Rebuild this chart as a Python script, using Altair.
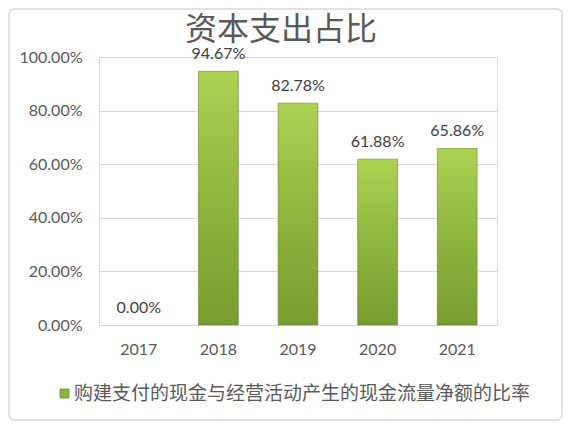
import altair as alt
import pandas as pd

# --- data ---
years = ['2017', '2018', '2019', '2020', '2021']
ratios = [0.0, 0.9467, 0.8278, 0.6188, 0.6586]
series_name = '购建支付的现金与经营活动产生的现金流量净额的比率'
chart_title = '资本支出占比'
y_ticks = [0, 0.2, 0.4, 0.6, 0.8, 1.0]

df = pd.DataFrame({'year': years, 'ratio': ratios, 'series': series_name})

GREY = '#595959'
NUM_FONT = 'Lato'
CJK_FONT = 'Noto Sans CJK SC'

bar_fill = alt.Gradient(
    gradient='linear',
    stops=[
        alt.GradientStop(color='#acd253', offset=0),
        alt.GradientStop(color='#96be42', offset=0.35),
        alt.GradientStop(color='#779c2f', offset=1),
    ],
    x1=0, x2=0, y1=0, y2=1,
)

x_enc = alt.X('year:N', title=None, sort=years,
              scale=alt.Scale(paddingInner=0.5, paddingOuter=0.25),
              axis=alt.Axis(labelAngle=0, ticks=False, domainColor='#d9d9d9',
                            labelFont=NUM_FONT, labelFontSize=16, labelColor=GREY,
                            labelPadding=16))
y_enc = alt.Y('ratio:Q', title=None, scale=alt.Scale(domain=[0, 1], nice=False),
              axis=alt.Axis(values=y_ticks, format='.2%', ticks=False, domain=False,
                            gridColor='#d9d9d9', labelFont=NUM_FONT, labelFontSize=16,
                            labelColor=GREY, labelPadding=17))

base = alt.Chart(df)

bars = base.mark_bar(fill=bar_fill, stroke='#6a8a28').encode(
    x=x_enc, y=y_enc,
    strokeWidth=alt.condition('datum.ratio > 0', alt.value(0.6), alt.value(0)))

labels = base.mark_text(dy=-12, baseline='alphabetic', font=NUM_FONT, fontSize=16,
                        color='#404040').encode(
    x='year:N', y='ratio:Q', text=alt.Text('ratio:Q', format='.2%'))

# invisible layer only to carry the legend entry
legend_layer = base.mark_point(shape='square', filled=True, opacity=0).encode(
    x='year:N', y='ratio:Q',
    color=alt.Color('series:N', scale=alt.Scale(range=['#8ab43c']),
                    legend=alt.Legend(title=None, orient='none', legendX=-44, legendY=327,
                                      symbolType='square', symbolSize=81, symbolOpacity=1,
                                      symbolStrokeColor='#6a8a28', symbolStrokeWidth=0.8,
                                      labelFont=CJK_FONT, labelFontSize=19, labelColor=GREY,
                                      labelOffset=0, labelLimit=600)))

# chart title drawn as text so it is not pushed above the frame
title = alt.Chart(pd.DataFrame({'t': [chart_title]})).mark_text(
    font=CJK_FONT, fontSize=32, color=GREY, align='center', baseline='middle').encode(
    text='t:N', x=alt.value(182), y=alt.value(-27))

frame = alt.Chart(pd.DataFrame({'f': [0]})).mark_rect(
    fill='transparent', stroke='#d9d9d9', strokeWidth=1.5, cornerRadius=5).encode(
    x=alt.value(-90), x2=alt.value(463), y=alt.value(-48), y2=alt.value(363))

chart = alt.layer(frame, bars, labels, legend_layer, title).properties(
    width=398, height=268,
    padding={'left': 91, 'top': 49, 'right': 66, 'bottom': 96},
    autosize=alt.AutoSizeParams(type='none'),
).configure_view(stroke=None).configure(background='white')

chart.save('out.html', embed_options={'renderer': 'svg', 'actions': False})
